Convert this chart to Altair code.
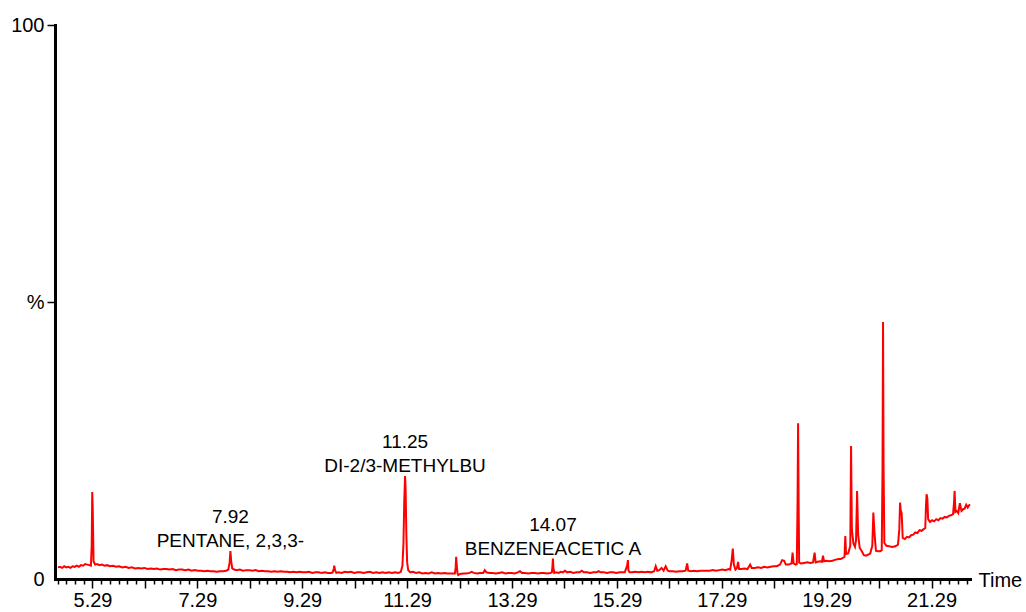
import altair as alt
import pandas as pd

# ---- chromatogram trace: retention time (min) and relative intensity (%) ----
TIME = [
    4.63, 4.67, 4.71, 4.75, 4.79, 4.83, 4.87, 4.91, 4.95, 4.99, 5.03, 5.07, 5.11, 5.15, 5.19, 5.23, 5.26,
    5.275, 5.285, 5.295, 5.31,
    5.34, 5.38, 5.42, 5.47, 5.52, 5.57, 5.62, 5.68, 5.74, 5.80, 5.86, 5.92, 5.98, 6.04, 6.10, 6.16, 6.22,
    6.28, 6.34, 6.40, 6.46, 6.52, 6.58, 6.64, 6.70, 6.76, 6.82, 6.88, 6.94, 7.00, 7.06, 7.12, 7.18, 7.24,
    7.30, 7.36, 7.42, 7.48, 7.54, 7.60, 7.66, 7.72, 7.78, 7.84, 7.88,
    7.905, 7.92, 7.935, 7.955,
    7.99, 8.04, 8.10, 8.16, 8.22, 8.28, 8.34, 8.40, 8.46, 8.52, 8.58, 8.64, 8.70, 8.76, 8.82, 8.88, 8.94,
    9.00, 9.06, 9.12, 9.18, 9.24, 9.30, 9.36, 9.42, 9.48, 9.54, 9.60, 9.66, 9.72, 9.78, 9.84, 9.87,
    9.89, 9.90, 9.915, 9.94,
    9.98, 10.04, 10.10, 10.16, 10.22, 10.28, 10.34, 10.40, 10.46, 10.52, 10.58, 10.64, 10.70, 10.76,
    10.82, 10.88, 10.94, 11.00, 11.06, 11.12, 11.17,
    11.20, 11.22, 11.235, 11.25, 11.26, 11.275, 11.29, 11.31,
    11.35, 11.40, 11.46, 11.52, 11.58, 11.64, 11.70, 11.76, 11.82, 11.88, 11.94, 12.00, 12.06, 12.12, 12.20,
    12.215, 12.225, 12.235, 12.25, 12.265,
    12.30, 12.36, 12.42, 12.48, 12.52, 12.56, 12.62, 12.68, 12.74, 12.77, 12.80, 12.86, 12.92, 12.98,
    13.04, 13.10, 13.16, 13.22, 13.28, 13.34, 13.40, 13.44, 13.48, 13.54, 13.60, 13.66, 13.72, 13.78,
    13.84, 13.90, 13.96, 14.02, 14.05,
    14.06, 14.07, 14.08, 14.095,
    14.13, 14.18, 14.22, 14.26, 14.30, 14.34, 14.40, 14.46, 14.52, 14.58, 14.62, 14.66, 14.72, 14.78,
    14.84, 14.90, 14.94, 14.98, 15.04, 15.10, 15.16, 15.22, 15.28, 15.34, 15.40, 15.44,
    15.485, 15.50, 15.51, 15.53,
    15.58, 15.64, 15.70, 15.76, 15.82, 15.88, 15.94, 16.00, 16.03, 16.06, 16.10, 16.14, 16.18, 16.22,
    16.26, 16.30, 16.36, 16.42, 16.48, 16.54, 16.60, 16.63, 16.65, 16.70, 16.76, 16.82, 16.88, 16.94,
    17.00, 17.06, 17.12, 17.18, 17.24, 17.30, 17.36, 17.42, 17.45,
    17.48, 17.50, 17.52, 17.55, 17.58, 17.60, 17.62,
    17.66, 17.72, 17.78, 17.83, 17.86, 17.92, 17.98, 18.04, 18.10, 18.16, 18.22, 18.28, 18.34, 18.40,
    18.44, 18.48, 18.51, 18.56, 18.62, 18.64, 18.66, 18.70, 18.72,
    18.735, 18.745, 18.755, 18.765,
    18.80, 18.86, 18.92, 18.98, 19.03, 19.06, 19.08, 19.12, 19.16, 19.20, 19.22, 19.24, 19.28, 19.34,
    19.40, 19.46, 19.52, 19.56,
    19.63, 19.645, 19.66, 19.70, 19.74, 19.755, 19.77, 19.80, 19.83, 19.85, 19.87, 19.89, 19.92, 19.96,
    20.00, 20.04, 20.08, 20.12,
    20.16, 20.18, 20.20, 20.23, 20.27, 20.31, 20.34,
    20.355, 20.365, 20.375, 20.39,
    20.43, 20.48, 20.54, 20.60, 20.65,
    20.675, 20.69, 20.70, 20.72, 20.74,
    20.78, 20.82, 20.86, 20.90, 20.94, 20.98, 21.02, 21.06, 21.10, 21.14, 21.17,
    21.185, 21.195, 21.21, 21.225, 21.26, 21.30, 21.34, 21.38, 21.42, 21.46, 21.50, 21.54, 21.58, 21.62,
    21.66, 21.70,
    21.72, 21.73, 21.745, 21.77, 21.80, 21.83, 21.86, 21.89, 21.92, 21.95, 21.98, 22.02,
]
INTENSITY = [
    2.1, 2.2, 2.0, 2.3, 2.1, 2.2, 2.0, 2.3, 2.2, 2.4, 2.2, 2.5, 2.4, 2.7, 2.6, 2.5, 2.4,
    6.0, 15.7, 12.5, 3.2,
    2.6, 2.7, 2.5, 2.6, 2.4, 2.5, 2.3, 2.4, 2.2, 2.3, 2.1, 2.2, 2.0, 2.1, 1.9, 2.0, 1.9,
    2.0, 1.8, 1.9, 1.8, 1.9, 1.7, 1.8, 1.8, 1.7, 1.8, 1.6, 1.7, 1.7, 1.6, 1.7, 1.5, 1.6,
    1.5, 1.5, 1.4, 1.5, 1.4, 1.4, 1.3, 1.4, 1.4, 1.5, 1.7,
    3.0, 5.05, 3.2, 1.9,
    1.7, 1.6, 1.7, 1.5, 1.6, 1.6, 1.5, 1.6, 1.4, 1.5, 1.4, 1.4, 1.3, 1.4, 1.3, 1.4, 1.3,
    1.3, 1.2, 1.3, 1.2, 1.3, 1.2, 1.2, 1.3, 1.1, 1.2, 1.2, 1.1, 1.2, 1.1, 1.1, 1.2,
    1.8, 2.4, 1.6, 1.1,
    1.2, 1.1, 1.3, 1.2, 1.3, 1.1, 1.2, 1.2, 1.1, 1.2, 1.3, 1.1, 1.2, 1.1,
    1.2, 1.1, 1.2, 1.1, 1.2, 1.1, 1.3,
    2.4, 6.5, 14.0, 18.6, 16.5, 8.0, 3.0, 1.6,
    1.2, 1.3, 1.1, 1.2, 1.0, 1.1, 1.0, 1.2, 1.0, 1.1, 1.0, 1.1, 1.0, 1.0, 1.0,
    2.0, 4.0, 2.6, 1.0, 0.7,
    0.9, 1.0, 1.0, 1.1, 1.3, 1.1, 1.0, 1.1, 1.1, 1.6, 1.2, 1.1, 1.1, 1.0,
    1.1, 1.2, 1.0, 1.1, 1.1, 1.0, 1.2, 1.4, 1.1, 1.1, 1.0, 1.1, 1.1, 1.0,
    1.1, 1.1, 1.0, 1.1, 1.2,
    2.2, 3.7, 2.0, 1.1,
    1.2, 1.1, 1.3, 1.2, 1.5, 1.2, 1.3, 1.1, 1.2, 1.2, 1.5, 1.2, 1.2, 1.1,
    1.2, 1.2, 1.4, 1.2, 1.2, 1.1, 1.2, 1.2, 1.1, 1.2, 1.2, 1.2,
    2.4, 3.4, 1.6, 1.2,
    1.2, 1.3, 1.2, 1.3, 1.2, 1.3, 1.2, 1.4, 2.3, 1.5, 1.6, 2.0, 1.5, 2.3,
    1.5, 1.4, 1.4, 1.3, 1.4, 1.4, 1.5, 2.8, 1.5, 1.4, 1.5, 1.4, 1.5, 1.5,
    1.5, 1.5, 1.6, 1.5, 1.6, 1.7, 1.6, 1.8, 1.7,
    3.5, 5.5, 2.6, 1.7, 2.0, 3.1, 1.8,
    1.8, 1.9, 1.8, 2.6, 2.0, 2.0, 2.1, 2.0, 2.2, 2.1, 2.2, 2.3, 2.3, 2.6,
    3.4, 3.3, 2.6, 2.6, 2.8, 4.75, 2.8, 2.6, 2.7,
    14.0, 28.1, 14.0, 3.0,
    2.8, 2.9, 3.0, 2.9, 3.0, 4.75, 3.0, 3.1, 3.2, 3.1, 4.2, 3.2, 3.3, 3.2,
    3.3, 3.5, 3.6, 3.6,
    4.0, 7.75, 4.5, 4.6, 6.0, 24.0, 9.0, 6.4, 5.8, 7.0, 15.9, 8.0, 5.6, 5.0,
    4.3, 4.2, 4.4, 4.6,
    6.0, 12.0, 8.5, 5.1, 5.0, 5.0, 5.2,
    20.0, 46.4, 20.0, 6.5,
    6.0, 5.9, 5.8, 5.9, 6.2,
    9.0, 13.8, 12.5, 11.9, 7.4,
    7.2, 7.6, 7.5, 7.9, 8.0, 8.4, 8.3, 8.8, 8.7, 9.0, 9.2,
    13.5, 15.3, 14.5, 10.8, 10.3, 10.6, 10.4, 10.8, 10.6, 11.0, 10.9, 11.2, 11.1, 11.4,
    11.5, 11.7,
    14.0, 15.9, 12.1, 12.3, 11.9, 13.7, 12.3, 12.6, 12.7, 13.4, 12.9, 13.5,
]

# ---- integrated peak windows and their fill colours ----
FILL_START = [5.26, 7.88, 9.87, 11.17, 12.20, 14.05, 16.00, 17.45, 18.72, 19.56, 20.74, 21.77]
FILL_END = [5.31, 7.955, 9.94, 11.31, 12.25, 14.095, 16.26, 17.62, 18.765, 19.80, 20.82, 21.80]
FILL_COLOR = ["#000080", "#1E7B7B", "#555555", "#FF9900", "#222222", "#222222",
              "#222222", "#D08000", "#0000A0", "#777777", "#333333", "#333333"]

# ---- identified peaks ----
LABEL_RT = [7.92, 11.25, 14.07]
LABEL_NAME = ["PENTANE, 2,3,3-", "DI-2/3-METHYLBU", "BENZENEACETIC A"]

FONT = "Liberation Sans"

trace = pd.DataFrame({"t": TIME, "i": INTENSITY})

# Fill polygons: trace above, straight integration baseline below
rows = []
for k, (s, e, c) in enumerate(zip(FILL_START, FILL_END, FILL_COLOR)):
    seg = trace[(trace.t >= s - 1e-9) & (trace.t <= e + 1e-9)].reset_index(drop=True)
    t0, i0 = seg.t.iloc[0], seg.i.iloc[0]
    t1, i1 = seg.t.iloc[-1], seg.i.iloc[-1]
    for _, r in seg.iterrows():
        b = i0 + (i1 - i0) * (r.t - t0) / (t1 - t0)
        rows.append({"peak": k, "t": r.t, "i": r.i, "b": b, "color": c})
fills = pd.DataFrame(rows)

apex = [float(trace.loc[(trace.t - rt).abs().idxmin(), "i"]) for rt in LABEL_RT]
labels = pd.DataFrame({
    "t": LABEL_RT,
    "i": apex,
    "rt": [f"{rt:.2f}" for rt in LABEL_RT],
    "name": LABEL_NAME,
})

X_SCALE = alt.Scale(domain=[4.575, 22.023], nice=False, zero=False)
Y_SCALE = alt.Scale(domain=[0, 100], nice=False)

# axis ticks: minor every 10 s, longer ones on every minute, labels every 2 min
minor_ticks = []
k = -4
while 5.29 + k / 6 <= 22.0:
    minor_ticks.append(round(5.29 + k / 6, 4))
    k += 1

IS_MINUTE = "abs(datum.value - 0.29 - round(datum.value - 0.29)) < 0.01"

x_axis = alt.Axis(
    values=minor_ticks,
    tickSize={"condition": {"test": IS_MINUTE, "value": 9}, "value": 5},
    tickWidth=1.5,
    tickColor="black",
    domainWidth=3,
    domainColor="black",
    domainCap="square",
    labelExpr=f"({IS_MINUTE}) && (round(datum.value - 0.29) % 2 == 1) ? format(datum.value, '.2f') : ''",
    labelOverlap=False,
    labelFlush=False,
    labelFont=FONT,
    labelFontSize=20,
    labelColor="black",
    labelPadding=2,
    grid=False,
    title="Time",
    titleFont=FONT,
    titleFontSize=20,
    titleFontWeight="normal",
    titleColor="black",
    titleX=923,
    titleY=1,
    titleAlign="left",
    titleBaseline="middle",
)

y_axis = alt.Axis(
    values=[0, 50, 100],
    labelExpr="datum.value == 50 ? '%' : datum.label",
    tickSize=8,
    tickWidth=1.5,
    tickColor={"condition": {"test": "datum.value == 0", "value": "transparent"}, "value": "black"},
    domainWidth=3,
    domainColor="black",
    domainCap="square",
    labelFont=FONT,
    labelFontSize=20,
    labelColor="black",
    labelPadding=3,
    grid=False,
    title=None,
)

# every layer shares the same scales and axis definitions
X_ENC = alt.X("t:Q", scale=X_SCALE, axis=x_axis)
Y_ENC = alt.Y("i:Q", scale=Y_SCALE, axis=y_axis)

area = alt.Chart(fills).mark_area(opacity=1, interpolate="linear").encode(
    x=X_ENC,
    y=Y_ENC,
    y2="b:Q",
    color=alt.Color("color:N", scale=None),
    detail="peak:N",
    order="t:Q",
)

line = alt.Chart(trace).mark_line(color="#FF0000", strokeWidth=2, interpolate="linear").encode(
    x=X_ENC,
    y=Y_ENC,
    order="t:Q",
)

rt_text = alt.Chart(labels).mark_text(
    font=FONT, fontSize=19, color="black", align="center", baseline="alphabetic", dy=-28
).encode(
    x=X_ENC,
    y=Y_ENC,
    text="rt:N",
)

name_text = alt.Chart(labels).mark_text(
    font=FONT, fontSize=19, color="black", align="center", baseline="alphabetic", dy=-4
).encode(
    x=X_ENC,
    y=Y_ENC,
    text="name:N",
)

chart = alt.layer(area, line, rt_text, name_text).properties(
    width=915,
    height=554,
    autosize="none",
    padding={"left": 55, "top": 25, "right": 56, "bottom": 33},
    background="white",
).configure_view(strokeWidth=0)

chart.save("out.html", embed_options={"renderer": "svg", "actions": False})
